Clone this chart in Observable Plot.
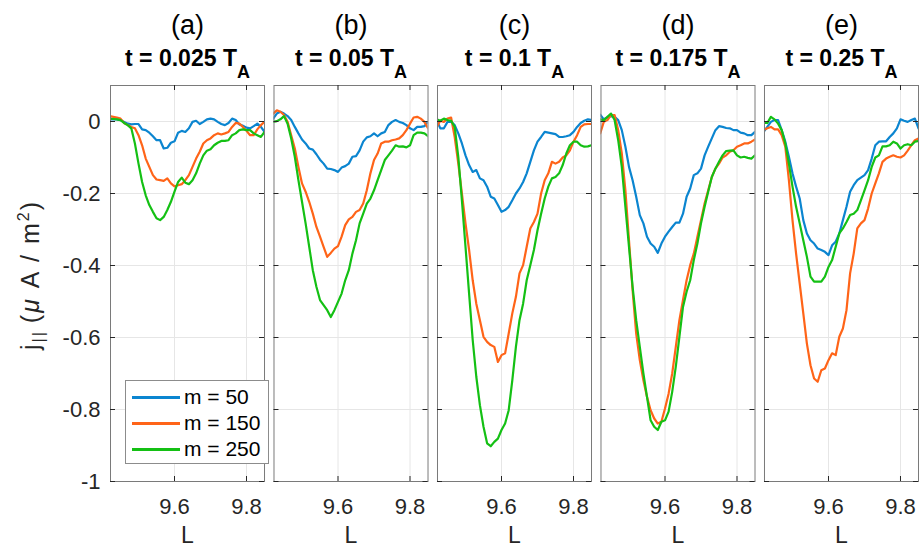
<!DOCTYPE html>
<html><head><meta charset="utf-8">
<script src="https://cdn.jsdelivr.net/npm/d3@7"></script>
<script src="https://cdn.jsdelivr.net/npm/@observablehq/plot@0.6"></script>
<style>
body{margin:0;background:#fff;}
#wrap{position:relative;width:923px;height:548px;font-family:"Liberation Sans",Arial,sans-serif;}
#legend{position:absolute;left:125px;top:380px;width:144px;height:84px;border:1px solid #8c8c8c;background:#fff;box-sizing:border-box;}
#legend .row{position:absolute;left:0;height:26px;width:140px;}
#legend .sw{position:absolute;left:6px;top:12px;width:48px;height:2.5px;}
#legend .lb{position:absolute;left:58px;top:0;line-height:26px;font-size:21px;color:#000;white-space:nowrap;}
</style>
</head><body><div id="wrap"></div>
<script>
const L = [9.42,9.43,9.44,9.45,9.46,9.47,9.48,9.49,9.50,9.51,9.52,9.53,9.54,9.55,9.56,9.57,9.58,9.59,9.60,9.61,9.62,9.63,9.64,9.65,9.66,9.67,9.68,9.69,9.70,9.71,9.72,9.73,9.74,9.75,9.76,9.77,9.78,9.79,9.80,9.81,9.82,9.83,9.84,9.85];
const panels = ["(a)","(b)","(c)","(d)","(e)"];
const times = ["t = 0.025 T","t = 0.05 T","t = 0.1 T","t = 0.175 T","t = 0.25 T"];
const timeSub = "A";
const series = ["m = 50","m = 150","m = 250"];
const colors = ["#0b85d0","#ff6418","#14c014"];
const xTicks = [9.6, 9.8];
const yTicks = [-1,-0.8,-0.6,-0.4,-0.2,0];

const a_m50 = [0.006,0.006,0.006,0.004,-0.001,-0.006,-0.008,-0.007,-0.007,-0.022,-0.024,-0.031,-0.041,-0.052,-0.052,-0.075,-0.073,-0.059,-0.055,-0.031,-0.026,-0.029,-0.019,-0.001,0.002,-0.007,-0.001,0.006,0.008,0.006,-0.001,-0.007,-0.010,-0.004,0.008,0.004,-0.008,-0.012,-0.017,-0.019,-0.013,-0.006,-0.015,-0.029];
const a_m150 = [0.015,0.013,0.011,0.008,-0.004,-0.010,-0.015,-0.019,-0.038,-0.066,-0.103,-0.126,-0.149,-0.161,-0.163,-0.165,-0.158,-0.172,-0.180,-0.177,-0.174,-0.163,-0.149,-0.126,-0.103,-0.084,-0.061,-0.052,-0.047,-0.038,-0.033,-0.036,-0.033,-0.029,-0.015,-0.004,-0.006,-0.015,-0.026,-0.038,-0.038,-0.022,-0.010,-0.001];
const a_m250 = [0.008,0.007,0.006,0.004,-0.004,-0.010,-0.019,-0.061,-0.117,-0.168,-0.205,-0.232,-0.251,-0.269,-0.274,-0.265,-0.246,-0.223,-0.195,-0.168,-0.156,-0.170,-0.174,-0.163,-0.144,-0.117,-0.094,-0.081,-0.077,-0.066,-0.059,-0.054,-0.054,-0.052,-0.038,-0.033,-0.024,-0.022,-0.024,-0.024,-0.033,-0.038,-0.043,-0.029];

const b_m50 = [0.008,0.022,0.027,0.022,0.015,0.004,-0.015,-0.033,-0.050,-0.061,-0.075,-0.078,-0.091,-0.106,-0.117,-0.131,-0.132,-0.135,-0.140,-0.128,-0.124,-0.117,-0.098,-0.096,-0.080,-0.056,-0.044,-0.041,-0.033,-0.041,-0.033,-0.029,-0.010,-0.001,0.004,-0.001,-0.004,-0.010,-0.019,-0.024,-0.015,-0.015,-0.013,-0.001];
const b_m150 = [0.022,0.031,0.027,0.018,-0.001,-0.038,-0.075,-0.126,-0.172,-0.195,-0.223,-0.256,-0.293,-0.320,-0.348,-0.376,-0.365,-0.353,-0.346,-0.320,-0.288,-0.272,-0.265,-0.251,-0.246,-0.228,-0.191,-0.144,-0.107,-0.089,-0.061,-0.056,-0.056,-0.052,-0.050,-0.047,-0.038,-0.024,-0.006,0.011,0.013,0.008,-0.001,-0.019];
const b_m250 = [-0.001,0.001,0.006,0.015,-0.006,-0.047,-0.098,-0.163,-0.223,-0.283,-0.348,-0.413,-0.459,-0.496,-0.510,-0.524,-0.543,-0.524,-0.501,-0.478,-0.441,-0.413,-0.367,-0.330,-0.283,-0.256,-0.228,-0.214,-0.191,-0.163,-0.135,-0.107,-0.094,-0.081,-0.066,-0.070,-0.069,-0.072,-0.066,-0.038,-0.031,-0.031,-0.033,-0.041];

const c_m50 = [0.004,-0.019,-0.019,-0.001,-0.001,-0.010,-0.033,-0.061,-0.094,-0.121,-0.140,-0.135,-0.158,-0.163,-0.181,-0.209,-0.214,-0.232,-0.251,-0.246,-0.237,-0.219,-0.200,-0.186,-0.168,-0.144,-0.112,-0.080,-0.056,-0.043,-0.029,-0.031,-0.033,-0.035,-0.043,-0.043,-0.041,-0.038,-0.029,-0.015,-0.004,0.002,0.006,0.004];
const c_m150 = [-0.015,0.002,-0.001,0.008,0.011,-0.043,-0.117,-0.200,-0.283,-0.357,-0.441,-0.506,-0.552,-0.598,-0.612,-0.621,-0.626,-0.668,-0.649,-0.644,-0.589,-0.533,-0.487,-0.422,-0.399,-0.348,-0.297,-0.279,-0.256,-0.200,-0.163,-0.144,-0.112,-0.117,-0.112,-0.100,-0.094,-0.080,-0.056,-0.038,-0.015,-0.008,-0.007,-0.007];
const c_m250 = [0.006,0.002,0.008,0.004,0.002,-0.015,-0.098,-0.219,-0.348,-0.478,-0.607,-0.709,-0.788,-0.848,-0.894,-0.902,-0.890,-0.881,-0.857,-0.839,-0.802,-0.719,-0.626,-0.552,-0.506,-0.441,-0.399,-0.357,-0.302,-0.256,-0.214,-0.181,-0.158,-0.154,-0.144,-0.121,-0.089,-0.066,-0.056,-0.056,-0.066,-0.070,-0.069,-0.066];

const d_m50 = [0.019,0.006,0.011,0.015,0.013,0.004,-0.024,-0.070,-0.126,-0.163,-0.209,-0.260,-0.283,-0.320,-0.339,-0.348,-0.365,-0.339,-0.320,-0.306,-0.293,-0.281,-0.281,-0.256,-0.209,-0.186,-0.149,-0.144,-0.131,-0.094,-0.070,-0.047,-0.024,-0.013,-0.015,-0.018,-0.019,-0.024,-0.024,-0.031,-0.033,-0.038,-0.038,-0.029];
const d_m150 = [-0.033,-0.001,0.004,0.018,0.018,-0.024,-0.089,-0.191,-0.330,-0.469,-0.589,-0.663,-0.719,-0.765,-0.802,-0.825,-0.839,-0.834,-0.797,-0.756,-0.700,-0.626,-0.552,-0.496,-0.441,-0.399,-0.367,-0.320,-0.274,-0.228,-0.191,-0.154,-0.131,-0.117,-0.100,-0.094,-0.084,-0.080,-0.070,-0.066,-0.061,-0.061,-0.056,-0.050];
const d_m250 = [0.006,0.004,0.013,0.022,0.004,-0.052,-0.126,-0.237,-0.348,-0.459,-0.552,-0.626,-0.700,-0.765,-0.830,-0.848,-0.857,-0.834,-0.830,-0.806,-0.751,-0.681,-0.598,-0.515,-0.473,-0.441,-0.385,-0.339,-0.283,-0.237,-0.195,-0.154,-0.131,-0.112,-0.094,-0.082,-0.081,-0.080,-0.094,-0.100,-0.098,-0.101,-0.103,-0.094];

const e_m50 = [-0.029,-0.015,-0.001,0.004,0.004,-0.024,-0.056,-0.098,-0.144,-0.181,-0.214,-0.274,-0.311,-0.330,-0.339,-0.353,-0.357,-0.362,-0.371,-0.344,-0.334,-0.311,-0.274,-0.237,-0.195,-0.177,-0.163,-0.156,-0.149,-0.135,-0.103,-0.066,-0.056,-0.055,-0.055,-0.043,-0.033,-0.019,0.006,0.002,-0.001,0.004,0.008,-0.019];
const e_m150 = [-0.024,-0.019,-0.015,-0.022,-0.022,-0.038,-0.070,-0.163,-0.274,-0.367,-0.450,-0.533,-0.617,-0.677,-0.714,-0.723,-0.691,-0.686,-0.663,-0.644,-0.649,-0.598,-0.575,-0.524,-0.422,-0.367,-0.297,-0.283,-0.274,-0.242,-0.200,-0.172,-0.144,-0.112,-0.103,-0.098,-0.094,-0.098,-0.100,-0.094,-0.081,-0.066,-0.052,-0.047];
const e_m250 = [-0.004,-0.004,0.013,0.006,-0.006,-0.024,-0.061,-0.117,-0.181,-0.237,-0.283,-0.330,-0.376,-0.431,-0.445,-0.445,-0.445,-0.431,-0.404,-0.385,-0.348,-0.311,-0.297,-0.279,-0.260,-0.256,-0.246,-0.219,-0.191,-0.163,-0.126,-0.100,-0.094,-0.069,-0.069,-0.066,-0.056,-0.061,-0.075,-0.066,-0.063,-0.066,-0.056,-0.054];

const panelSeries = [
  [a_m50, a_m150, a_m250],
  [b_m50, b_m150, b_m250],
  [c_m50, c_m150, c_m250],
  [d_m50, d_m150, d_m250],
  [e_m50, e_m150, e_m250]
];

const rows = [];
panels.forEach((p, pi) => panelSeries[pi].forEach((arr, si) => arr.forEach((v, i) => rows.push({panel: p, m: series[si], L: L[i], j: v}))));

const W = 923, H = 548, MT = 85, MB = 67, ML = 110, MR = 5;
const PH = H - MT - MB;
const PAD = 0.058;
const BW = (W - ML - MR) / (panels.length - PAD) * (1 - PAD);
const TL = 5;
const tickColor = "#262626";

const chart = Plot.plot({
  width: W, height: H,
  marginTop: MT, marginBottom: MB, marginLeft: ML, marginRight: MR,
  style: {fontFamily: '"Liberation Sans", Arial, sans-serif', fontSize: "22px", color: "#262626", background: "#fff", overflow: "visible"},
  fx: {domain: panels, paddingInner: PAD, paddingOuter: 0, round: false, axis: null, label: null},
  x: {domain: [9.4222, 9.85], label: null},
  y: {domain: [-1, 0.1], label: null},
  color: {domain: series, range: colors},
  marks: [
    Plot.gridX(xTicks, {stroke: "#e6e6e6", strokeOpacity: 1, strokeWidth: 1}),
    Plot.gridY(yTicks, {stroke: "#e6e6e6", strokeOpacity: 1, strokeWidth: 1}),
    Plot.line(rows, {fx: "panel", x: "L", y: "j", stroke: "m", z: "m", strokeWidth: 2.2, clip: true}),
    Plot.frame({stroke: "#7a7a7a", strokeWidth: 1}),
    Plot.tickX(xTicks, {x: d => d, insetTop: PH - TL, stroke: tickColor}),
    Plot.tickX(xTicks, {x: d => d, insetBottom: PH - TL, stroke: tickColor}),
    Plot.tickY(yTicks, {y: d => d, insetRight: BW - TL, stroke: tickColor}),
    Plot.tickY(yTicks, {y: d => d, insetLeft: BW - TL, stroke: tickColor}),
    Plot.axisX(xTicks, {tickSize: 0, tickPadding: 17, tickFormat: d => d.toFixed(1), label: null, fill: tickColor}),
    Plot.axisY(yTicks, {tickSize: 0, tickPadding: 10, tickFormat: d => String(d), label: null, fill: tickColor}),
    Plot.text(panels, {fx: d => d, text: d => d, frameAnchor: "top", lineAnchor: "middle", dy: 33 - 0.32 * 27 - MT, fontSize: 27, fill: "#000"}),
    Plot.text(panels, {fx: d => d, text: (d, i) => times[i], frameAnchor: "top", lineAnchor: "middle", dy: 65 - 0.32 * 23 - MT, fontSize: 23, fontWeight: "bold", fill: "#000"}),
    Plot.text(panels, {fx: d => d, text: () => "L", frameAnchor: "bottom", lineAnchor: "middle", dy: 542 - 0.32 * 23 - (H - MB), fontSize: 23, fill: tickColor})
  ]
});

const wrap = d3.select("#wrap");
wrap.node().appendChild(chart);

const svg = d3.select(chart);
// subscript A on time titles
svg.selectAll("text").filter(function() { return times.includes(this.textContent); })
  .append("tspan").attr("dy", 13).attr("font-size", 18).text(timeSub);

// y label
const yl = svg.append("text")
  .attr("transform", "translate(39,275) rotate(-90)")
  .attr("text-anchor", "middle").attr("font-size", 25).attr("letter-spacing", 2).attr("fill", tickColor);
yl.append("tspan").text("j");
yl.append("tspan").attr("font-size", 16).attr("dy", 5).text("||");
yl.append("tspan").attr("dy", -5).text("\u2009(");
yl.append("tspan").attr("font-style", "italic").text("μ");
yl.append("tspan").text(" A / m");
yl.append("tspan").attr("font-size", 16).attr("dy", -10).text("2");
yl.append("tspan").attr("dy", 10).text(")");

// legend
const legend = wrap.append("div").attr("id", "legend");
series.forEach((s, i) => {
  const row = legend.append("div").attr("class", "row").style("top", (3 + i * 26) + "px");
  row.append("span").attr("class", "sw").style("background", colors[i]);
  row.append("span").attr("class", "lb").text(s);
});
</script>
</body></html>
